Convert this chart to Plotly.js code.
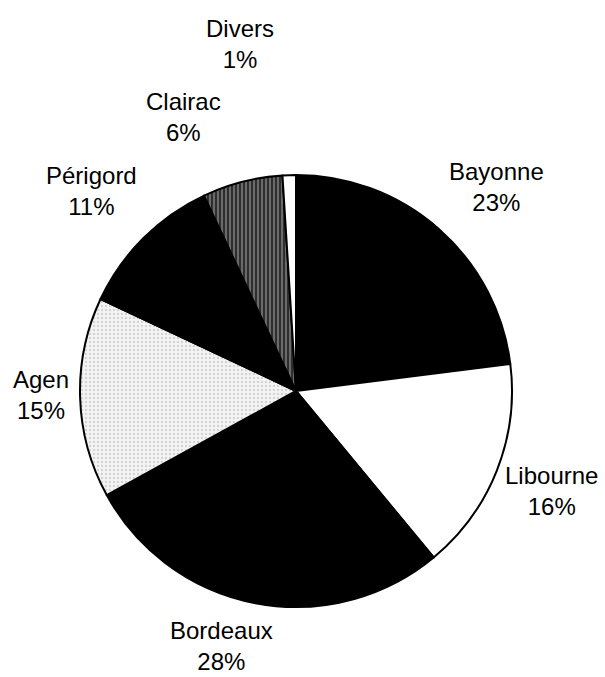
<!DOCTYPE html>
<html>
<head>
<meta charset="utf-8">
<script src="https://cdn.plot.ly/plotly-3.0.1.min.js"></script>
<style>html,body{margin:0;padding:0;background:#fff;}#chart{width:605px;height:677px;}</style>
</head>
<body>
<div id="chart"></div>
<script>
// Data
const regions = ["Bayonne", "Libourne", "Bordeaux", "Agen", "Périgord", "Clairac", "Divers"];
const shares = [23, 16, 28, 15, 11, 6, 1];
const sliceColors = ["#000000", "#ffffff", "#000000", "#f2f2f2", "#000000", "#2e2e2e", "#ffffff"];
const patternShapes = ["", "", "", ".", "", "|", ""];
const patternFg = ["#000000", "#000000", "#000000", "#9a9a9a", "#000000", "#d8d8d8", "#000000"];
const patternSolidity = [0.3, 0.3, 0.3, 0.18, 0.3, 0.35, 0.3];

// Label placement (pixel centres in the 605x677 page)
const labelX = [497, 551, 221, 41, 92, 184, 240];
const labelY = [187, 491, 646, 395, 191, 117, 44];

const W = 605, H = 677;
const cx = 296, cy = 391, r = 216;

const annotations = regions.map((name, i) => ({
  text: name + "<br>" + shares[i] + "%",
  x: labelX[i] / W,
  y: 1 - labelY[i] / H,
  xref: "paper", yref: "paper",
  xanchor: "center", yanchor: "middle",
  showarrow: false,
  borderpad: 0,
  font: {family: "Liberation Sans, Arial, sans-serif", size: 24, color: "#000"}
}));

const trace = {
  type: "pie",
  labels: regions,
  values: shares,
  sort: false,
  direction: "clockwise",
  rotation: 0,
  textinfo: "none",
  hoverinfo: "label+percent",
  marker: {
    colors: sliceColors,
    line: {color: "#000000", width: 2},
    pattern: {
      shape: patternShapes,
      fgcolor: patternFg,
      bgcolor: sliceColors,
      fillmode: "overlay",
      size: 4,
      solidity: patternSolidity
    }
  },
  domain: {
    x: [(cx - r) / W, (cx + r) / W],
    y: [1 - (cy + r) / H, 1 - (cy - r) / H]
  }
};

const layout = {
  width: W, height: H,
  margin: {l: 0, r: 0, t: 0, b: 0},
  paper_bgcolor: "#ffffff",
  showlegend: false,
  annotations: annotations
};

Plotly.newPlot("chart", [trace], layout, {displayModeBar: false, staticPlot: true});
</script>
</body>
</html>
